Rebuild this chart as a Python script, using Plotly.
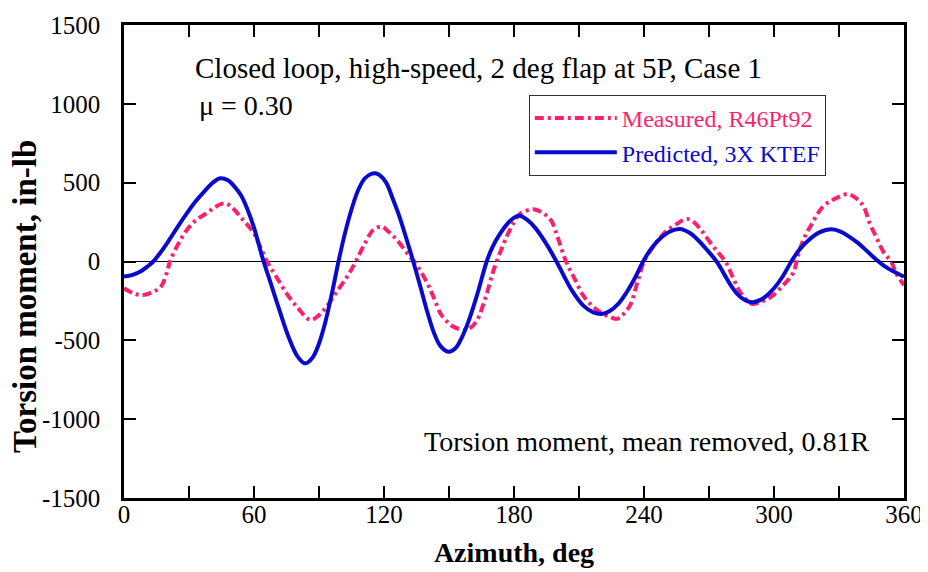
import plotly.graph_objects as go

# Measured, R46Pt92
meas_az = [0, 5, 9, 13, 17, 20, 21.2, 25, 29, 33, 38, 42, 46.6, 50, 55, 60, 63, 66, 70, 75, 80, 86, 90, 93.5,
           98, 103, 107, 111, 115, 119, 122, 126, 132, 134, 140, 143, 146, 149, 152, 157, 160, 163, 167, 170,
           172, 176.6, 180, 183, 189, 193, 197, 200, 204, 208, 212, 216, 220, 224, 227.4, 230, 233.5, 237,
           240, 244, 247, 250, 254, 257, 260, 263, 266, 269, 272, 275, 278, 281, 284, 287, 290, 293, 297,
           300, 304, 307, 309, 312, 315, 317, 320, 323, 327, 330, 334, 337, 340, 342, 344, 347, 349, 351,
           354, 357, 360]
meas_val = [-170, -205, -212, -195, -160, -60, 0, 110, 200, 260, 305, 345, 369, 340, 263, 179, 90, 0, -90, -202,
            -290, -371, -340, -287, -195, -96, 0, 110, 200, 221, 190, 136, 30, 0, -138, -230, -328, -380, -413,
            -434, -420, -371, -223, -80, 0, 157, 250, 305, 331, 310, 263, 160, 0, -110, -217, -280, -323, -350,
            -364, -340, -280, -130, 0, 90, 143, 190, 227, 255, 270, 250, 206, 150, 95, 45, -10, -100, -185, -240,
            -270, -260, -238, -210, -153, -110, -68, 80, 180, 227, 300, 354, 390, 410, 428, 410, 375, 330, 248,
            160, 100, 50, 0, -90, -150]

# Predicted, 3X KTEF
pred_az = [0, 4, 8, 11, 13.5, 17, 21, 25, 29, 33, 37, 41, 44.3, 48, 51, 54, 57, 60, 64, 68, 72, 76, 80,
           83.5, 87, 90, 93, 96, 99, 102, 105, 108, 111, 114, 116, 118, 121, 124, 127, 130, 133.5,
           137, 140, 143, 146, 149.7, 153, 156, 159, 163, 167.4, 170, 173.5, 177, 180, 182.7, 186,
           190, 195, 199.6, 203, 207, 212, 216.6, 220.4, 224, 228, 232, 236, 239.6, 243, 247, 252,
           256.6, 261, 265, 269, 273.5, 277, 280, 283, 286, 290, 294, 297, 300, 304, 308, 312, 316.6, 321,
           326.6, 331, 335, 339, 343, 347, 351, 355, 360]
pred_val = [-96, -85, -60, -30, 0, 60, 140, 225, 305, 380, 443, 500, 528, 515, 475, 420, 330, 215, 20, -150, -320,
            -480, -600, -646, -610, -520, -380, -200, 0, 180, 330, 450, 525, 555, 560, 548, 500, 400, 290, 160, 0,
            -170, -320, -450, -535, -572, -550, -480, -380, -210, 0, 90, 175, 240, 278, 290, 265, 210, 110,
            0, -90, -190, -280, -323, -333, -315, -270, -195, -100, 0, 75, 140, 190, 206, 182, 135, 75, 0, -80,
            -150, -205, -240, -259, -242, -212, -170, -95, 0, 80, 143, 185, 204, 188, 155, 115, 65, 15, -30,
            -62, -96]

x_ticks = [0, 30, 60, 90, 120, 150, 180, 210, 240, 270, 300, 330, 360]
x_labels = ["0", "", "60", "", "120", "", "180", "", "240", "", "300", "", "360"]
y_ticks = [-1500, -1000, -500, 0, 500, 1000, 1500]
y_labels = ["-1500", "-1000", "-500", "0", "500", "1000", "1500"]

PINK = "#FF1F70"
BLUE = "#0A0ACD"
FONT = "Liberation Serif"

fig = go.Figure()
fig.add_trace(go.Scatter(
    x=meas_az, y=meas_val, mode="lines", line_shape="spline",
    name=f"<span style='color:{PINK}'>Measured, R46Pt92</span>",
    line=dict(color=PINK, width=4, dash="9px,4px,3px,4px"),
))
fig.add_trace(go.Scatter(
    x=pred_az, y=pred_val, mode="lines", line_shape="spline",
    name=f"<span style='color:{BLUE}'>Predicted, 3X KTEF</span>",
    line=dict(color=BLUE, width=4),
))

fig.update_layout(
    width=928, height=572,
    margin=dict(l=116, r=32, t=17, b=82, autoexpand=False),
    paper_bgcolor="white", plot_bgcolor="white",
    font=dict(family=FONT, size=25, color="black"),
    showlegend=True,
    legend=dict(
        x=0.519, y=0.852, xanchor="left", yanchor="top",
        bgcolor="white", bordercolor="#333333", borderwidth=1,
        font=dict(family=FONT, size=24), itemwidth=82,
        tracegroupgap=0,
    ),
    xaxis=dict(
        range=[0, 360], tickvals=x_ticks, ticktext=x_labels,
        ticks="inside", ticklen=12, tickwidth=1.5, tickcolor="black",
        showline=True, linecolor="black", linewidth=2.5, mirror="ticks",
        showgrid=False, zeroline=False, automargin=False,
        tickfont=dict(family=FONT, size=25), ticklabelstandoff=-8,
        title=dict(text="<b>Azimuth, deg</b>", font=dict(family=FONT, size=28), standoff=16),
    ),
    yaxis=dict(
        range=[-1500, 1500], tickvals=y_ticks, ticktext=y_labels,
        ticks="inside", ticklen=12, tickwidth=1.5, tickcolor="black",
        showline=True, linecolor="black", linewidth=2.5, mirror="ticks",
        showgrid=False, zeroline=True, zerolinecolor="black", zerolinewidth=1,
        tickfont=dict(family=FONT, size=25), ticklabelstandoff=16, automargin=False,
    ),
    annotations=[
        dict(text="<b>Torsion moment, in-lb</b>", xref="paper", yref="paper", textangle=-90,
             x=(25 - 124) / 780, y=(498 - 297) / 473, xanchor="center", yanchor="middle", showarrow=False,
             font=dict(family=FONT, size=33)),
        dict(text="Closed loop, high-speed, 2 deg flap at 5P, Case 1", xref="paper", yref="paper",
             x=(193 - 124) / 780, y=(498 - 68) / 473, xanchor="left", yanchor="middle", showarrow=False,
             font=dict(family=FONT, size=29)),
        dict(text="μ = 0.30", xref="paper", yref="paper",
             x=(197 - 124) / 780, y=(498 - 105) / 473, xanchor="left", yanchor="middle", showarrow=False,
             font=dict(family=FONT, size=28)),
        dict(text="Torsion moment, mean removed, 0.81R", xref="paper", yref="paper",
             x=(422 - 124) / 780, y=(498 - 441) / 473, xanchor="left", yanchor="middle", showarrow=False,
             font=dict(family=FONT, size=28)),
    ],
)

fig.write_html("out.html")
